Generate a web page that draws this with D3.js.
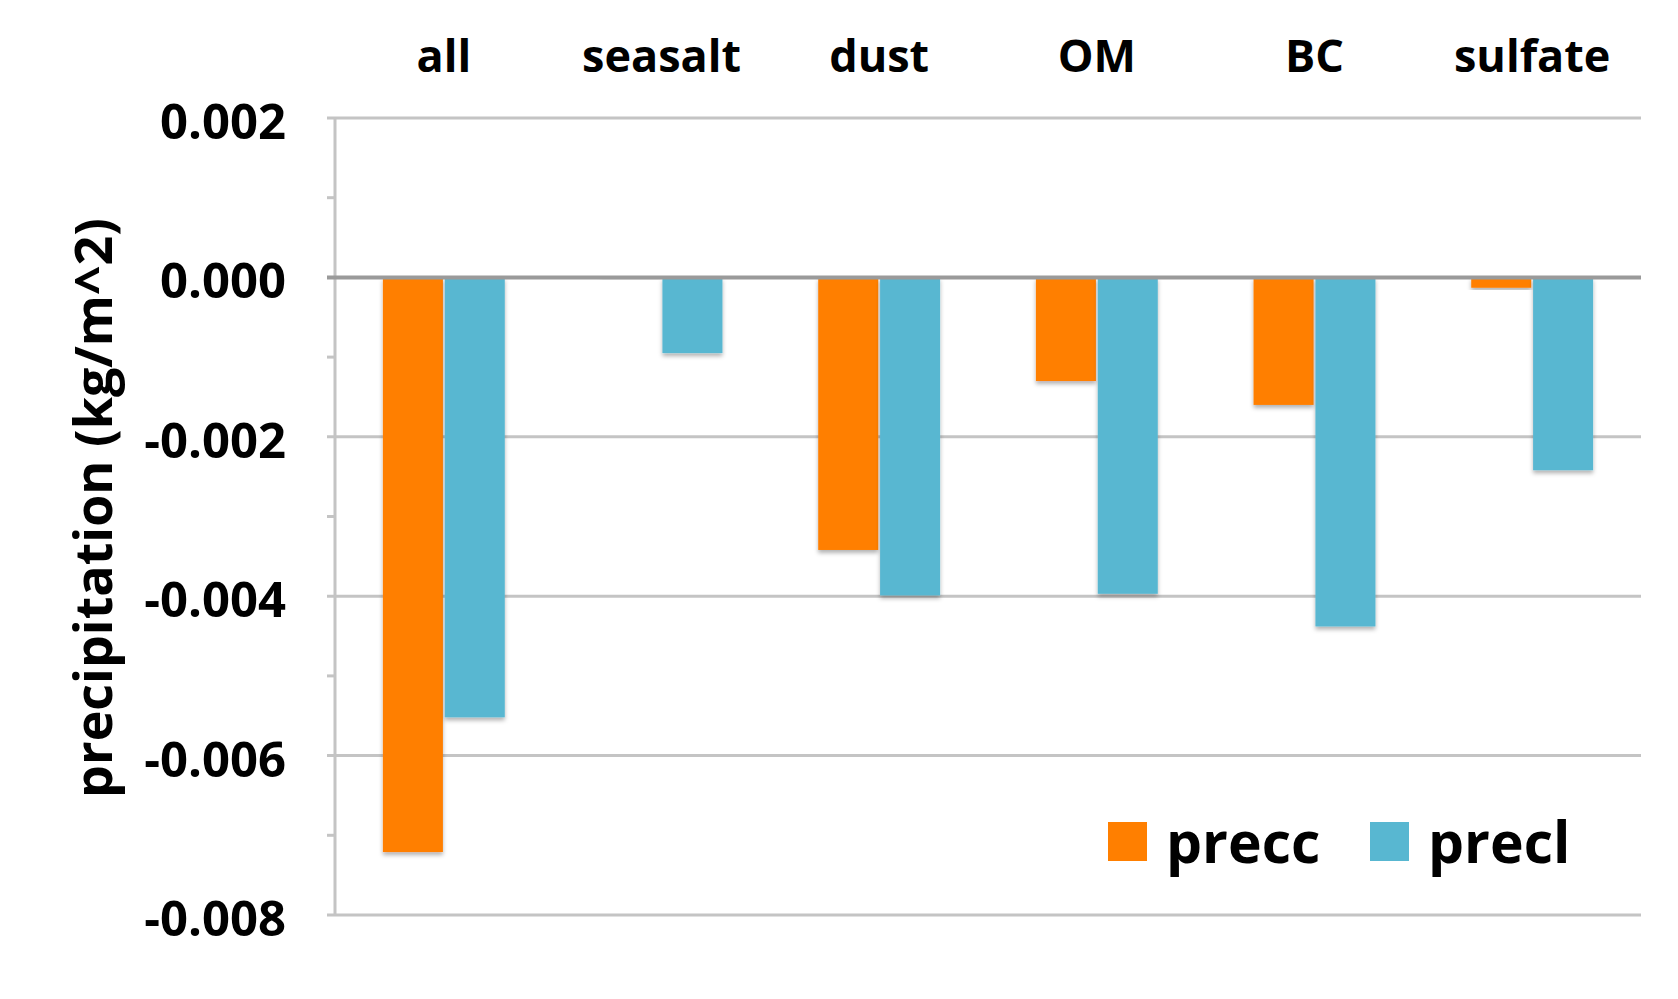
<!DOCTYPE html>
<html>
<head>
<meta charset="utf-8">
<script src="https://cdn.jsdelivr.net/npm/d3@7"></script>
<style>
  html, body { margin: 0; padding: 0; background: #fff; }
  svg { display: block; }
  text { font-family: "Open Sans", "DejaVu Sans", sans-serif; font-weight: 700; fill: #000; }
</style>
</head>
<body>
<svg id="chart" width="1678" height="999"></svg>
<script>
const categories = ["all", "seasalt", "dust", "OM", "BC", "sulfate"];
const seriesNames = ["precc", "precl"];
const precc = [-0.00721, -0.00002, -0.00342, -0.0013, -0.0016, -0.00013];
const precl = [-0.00552, -0.00095, -0.00399, -0.00397, -0.00438, -0.00242];
const yTicks = [0.002, 0.000, -0.002, -0.004, -0.006, -0.008];
const yMinorTicks = [0.001, -0.001, -0.003, -0.005, -0.007];
const colors = ["#FF7F00", "#58B7D1"];
const yLabel = "precipitation (kg/m^2)";

const svg = d3.select("#chart");
const plotL = 335, plotR = 1641, plotT = 118, plotB = 915;

const defs = svg.append("defs");
const f = defs.append("filter").attr("id", "shadow").attr("x", "-10%").attr("y", "-10%").attr("width", "130%").attr("height", "130%");
f.append("feDropShadow").attr("dx", 0).attr("dy", 3).attr("stdDeviation", 2).attr("flood-color", "#000").attr("flood-opacity", 0.3);

const x0 = d3.scaleBand().domain(categories).range([plotL, plotR]).paddingInner(0.44).paddingOuter(0.22);
const x1 = d3.scaleBand().domain(seriesNames).range([0, x0.bandwidth()]).paddingInner(0.03);
const y = d3.scaleLinear().domain([-0.008, 0.002]).range([plotB, plotT]);

// gridlines
svg.append("g").selectAll("line").data(yTicks.filter(d => d !== 0)).join("line")
  .attr("x1", plotL - 8).attr("x2", plotR)
  .attr("y1", d => y(d)).attr("y2", d => y(d))
  .attr("stroke", "#c4c4c4").attr("stroke-width", 3);

// minor ticks
svg.append("g").selectAll("line").data(yMinorTicks).join("line")
  .attr("x1", plotL - 8).attr("x2", plotL)
  .attr("y1", d => y(d)).attr("y2", d => y(d))
  .attr("stroke", "#c4c4c4").attr("stroke-width", 3);

// y axis line
svg.append("line").attr("x1", plotL).attr("x2", plotL).attr("y1", y(0.002)).attr("y2", y(-0.008))
  .attr("stroke", "#c4c4c4").attr("stroke-width", 3);

// tick labels via d3 axis
const yAxis = d3.axisLeft(y).tickValues(yTicks).tickFormat(d => d3.format(".3f")(d).replace("\u2212", "-")).tickSize(0).tickPadding(0);
const gAxis = svg.append("g").attr("transform", `translate(${plotL - 49},0)`).call(yAxis);
gAxis.select(".domain").remove();
gAxis.selectAll("text")
  .attr("font-family", "'Open Sans', sans-serif")
  .attr("font-weight", 700)
  .attr("font-size", 49)
  .attr("fill", "#000")
  .attr("dy", "0.42em");

// bars
const data = categories.map((c, i) => ({ cat: c, vals: [precc[i], precl[i]] }));
const groups = svg.append("g").selectAll("g").data(data).join("g")
  .attr("transform", d => `translate(${x0(d.cat)},0)`);
groups.selectAll("rect").data(d => d.vals.map((v, j) => ({ key: seriesNames[j], v, j }))).join("rect")
  .attr("x", d => x1(d.key))
  .attr("width", x1.bandwidth())
  .attr("y", d => y(Math.max(0, d.v)))
  .attr("height", d => Math.abs(y(d.v) - y(0)))
  .attr("fill", d => colors[d.j])
  .attr("filter", "url(#shadow)");

// zero line
svg.append("line").attr("x1", plotL - 8).attr("x2", plotR).attr("y1", y(0)).attr("y2", y(0))
  .attr("stroke", "#9a9a9a").attr("stroke-width", 4);

// category labels on top
svg.append("g").selectAll("text").data(categories).join("text")
  .attr("x", d => x0(d) + x0.bandwidth() / 2)
  .attr("y", 72)
  .attr("text-anchor", "middle")
  .attr("font-size", 45)
  .text(d => d);

// y label
svg.append("text")
  .attr("transform", `translate(${112},${508}) rotate(-90)`)
  .attr("text-anchor", "middle")
  .attr("font-size", 52)
  .text(yLabel);

// legend
const legendX = [1108, 1370];
const lg = svg.append("g").selectAll("g").data(seriesNames).join("g")
  .attr("transform", (d, i) => `translate(${legendX[i]},822)`);
lg.append("rect").attr("width", 39).attr("height", 39).attr("fill", (d, i) => colors[i]);
lg.append("text").attr("x", 58).attr("y", 41).attr("font-size", 57).text(d => d);
</script>
</body>
</html>
